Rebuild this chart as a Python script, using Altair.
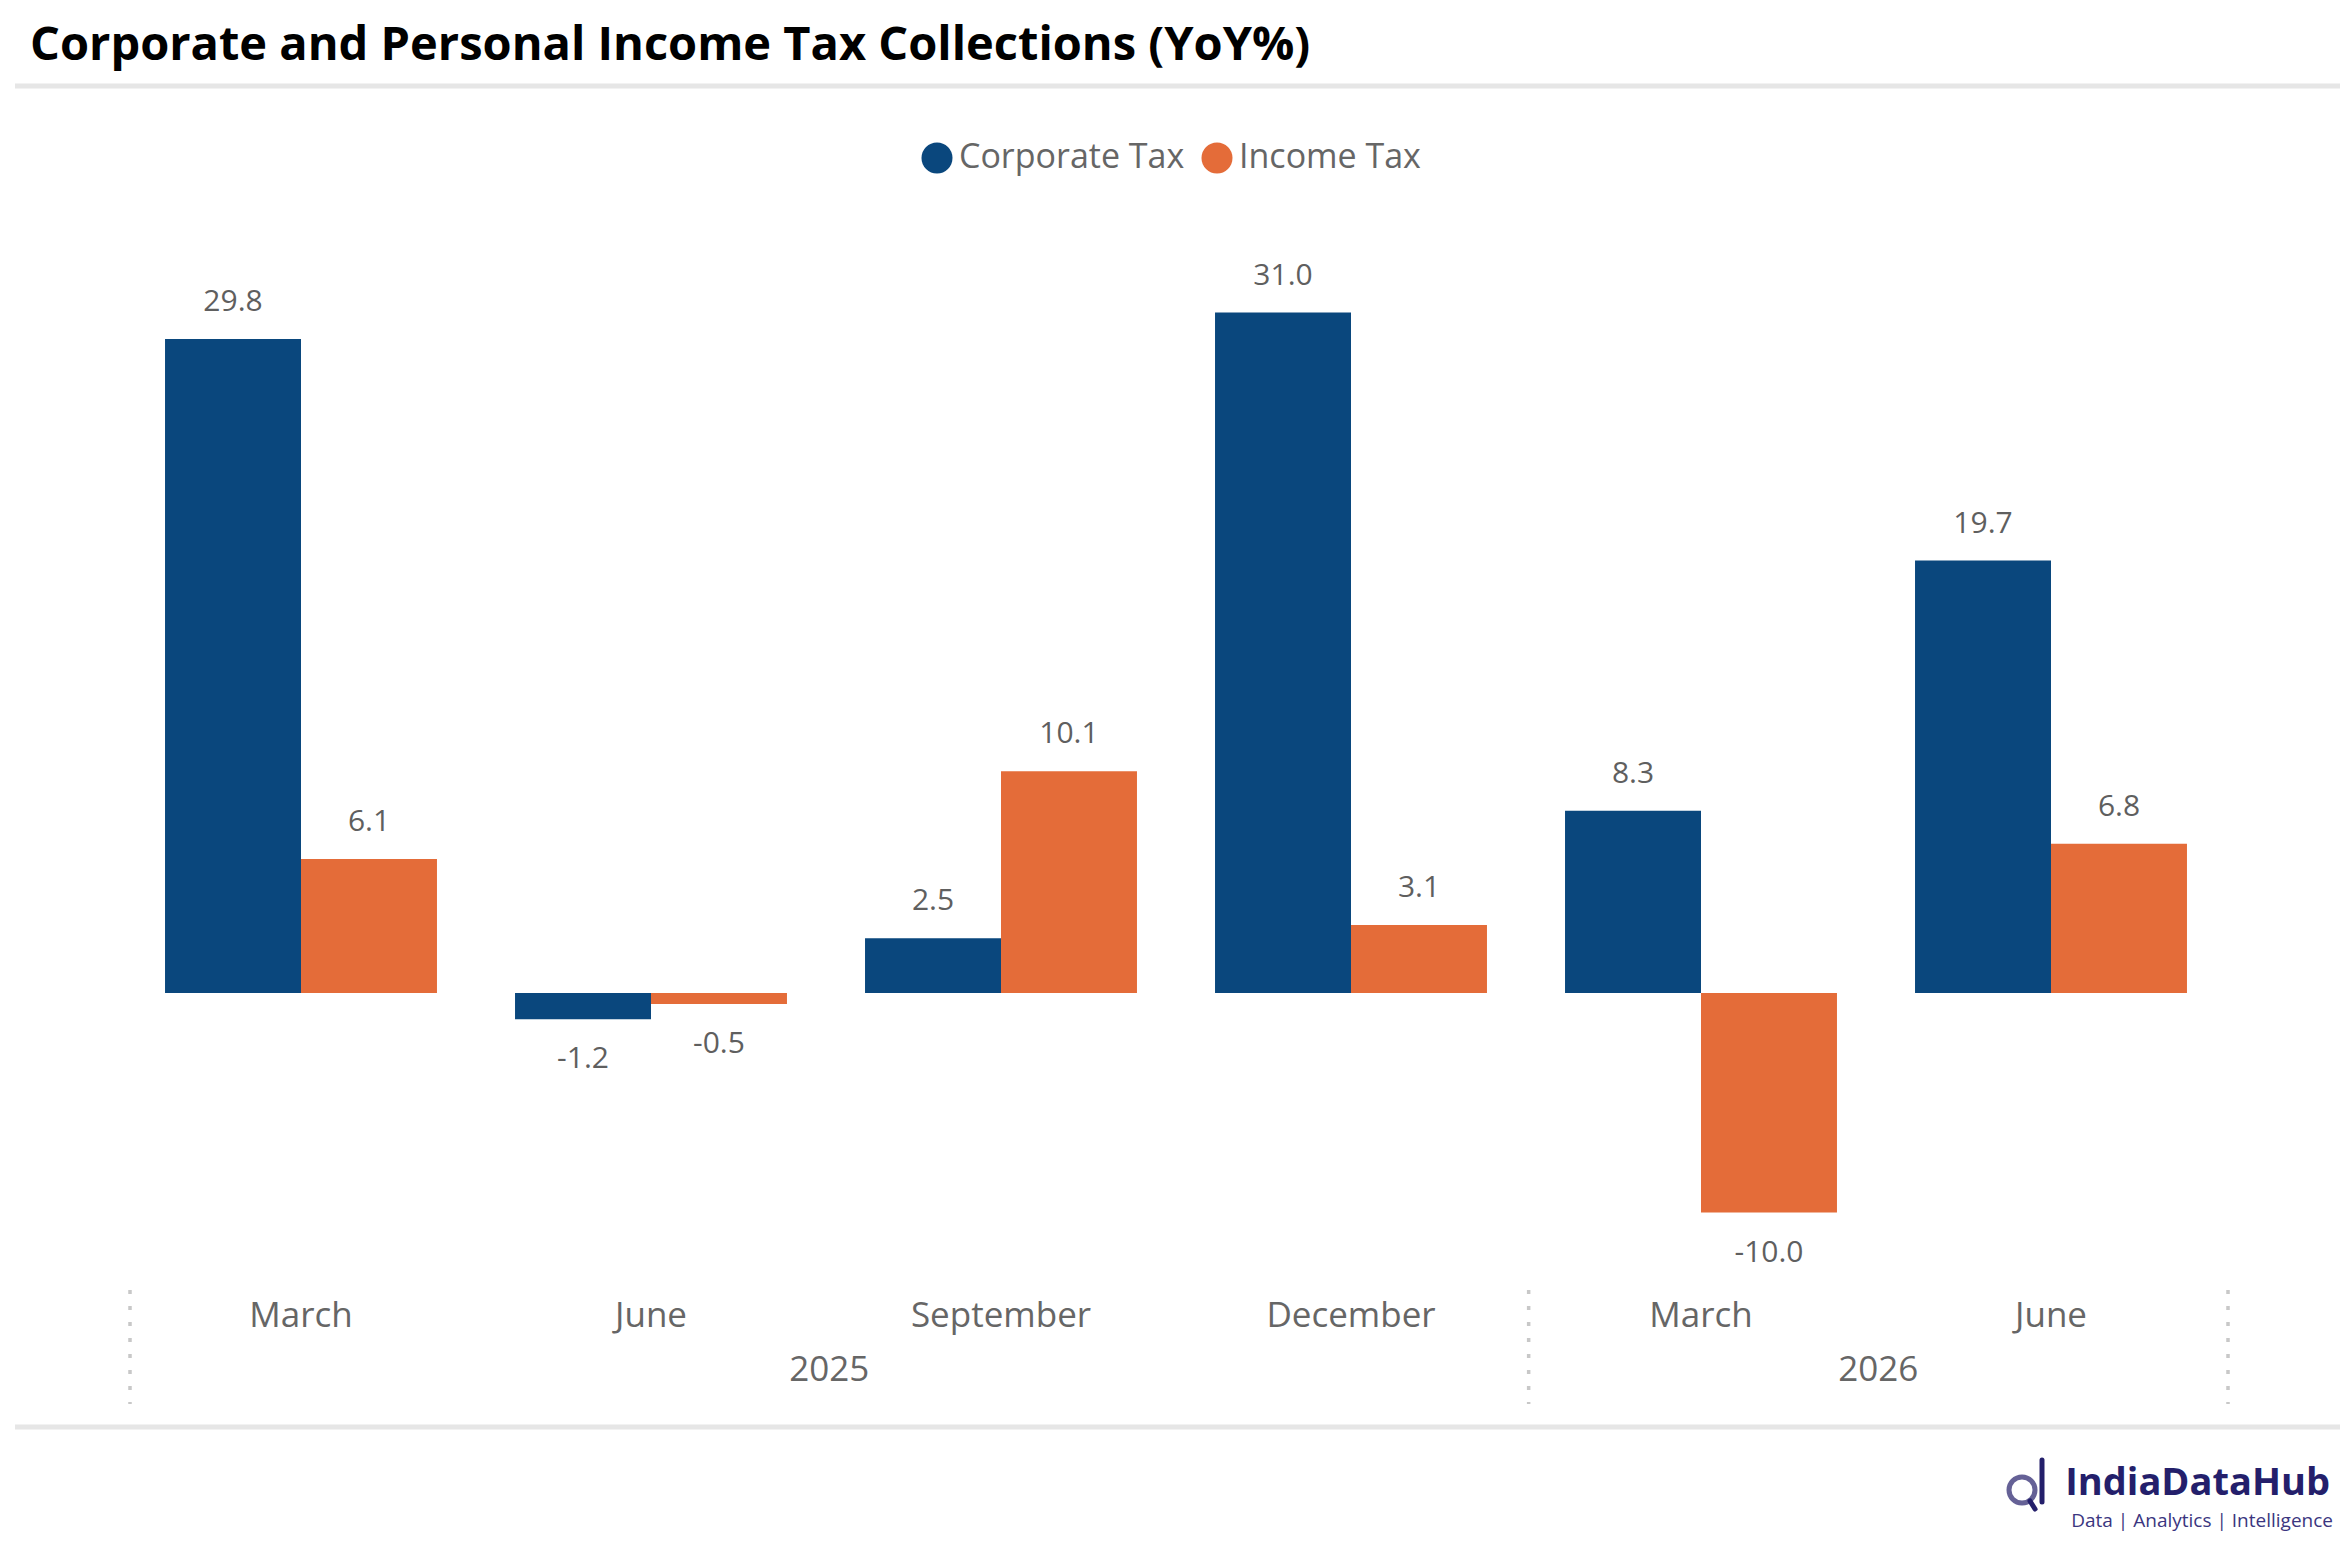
import altair as alt
import pandas as pd

TITLE = "Corporate and Personal Income Tax Collections (YoY%)"
months = ["March", "June", "September", "December", "March", "June"]
years = ["2025", "2025", "2025", "2025", "2026", "2026"]
corporate = [29.8, -1.2, 2.5, 31.0, 8.3, 19.7]
income = [6.1, -0.5, 10.1, 3.1, -10.0, 6.8]
series_names = ["Corporate Tax", "Income Tax"]
colors = ["#0a477d", "#e46c39"]
logo_name = "IndiaDataHub"
logo_tag = "Data | Analytics | Intelligence"

FONT = "Open Sans"
LABEL_GRAY = "#5f5f5f"
AXIS_GRAY = "#666666"
NAVY = "#241f6b"

periods = [f"{m} {y}" for m, y in zip(months, years)]
rows = []
for p, m, y, c, i in zip(periods, months, years, corporate, income):
    for s, v in ((series_names[0], c), (series_names[1], i)):
        rows.append(dict(period=p, month=m, year=y, series=s, value=v, label=f"{v:.1f}"))
df = pd.DataFrame(rows)
month_df = pd.DataFrame({"period": periods, "month": months})

# year groups (boundaries and centres in slot units)
year_order, year_counts = [], []
for y in years:
    if year_order and year_order[-1] == y:
        year_counts[-1] += 1
    else:
        year_order.append(y)
        year_counts.append(1)
bounds = [0]
for c in year_counts:
    bounds.append(bounds[-1] + c)
year_df = pd.DataFrame({"year": year_order,
                        "center": [(bounds[k] + bounds[k + 1]) / 2 for k in range(len(year_order))]})
sep_df = pd.DataFrame({"pos": bounds})

band_x = alt.Scale(domain=periods, range=[118, 2218], paddingInner=0.223, paddingOuter=0.1115)
slot_x = alt.Scale(domain=[0, len(periods)], range=[122, 2220], nice=False, zero=False)
y_scale = alt.Scale(domain=[-20, 40], range=[1424, 107], nice=False, zero=False)
off_scale = alt.Scale(domain=series_names, paddingInner=0, paddingOuter=0)

X = alt.X("period:N", scale=band_x, axis=None)
XO = alt.XOffset("series:N", scale=off_scale)
Y = alt.Y("value:Q", scale=y_scale, axis=None)

bars = alt.Chart(df).mark_bar().encode(
    x=X, xOffset=XO, y=Y, y2=alt.datum(0),
    color=alt.Color("series:N", scale=alt.Scale(domain=series_names, range=colors),
                    legend=alt.Legend(orient="none", legendX=912, legendY=133,
                                      direction="horizontal", title=None,
                                      symbolType="circle", symbolSize=961,
                                      symbolStrokeWidth=0, labelLimit=0,
                                      labelFont=FONT, labelFontSize=34,
                                      labelColor=AXIS_GRAY, labelOffset=5,
                                      columnPadding=15, padding=0)),
)

lab_pos = alt.Chart(df).transform_filter("datum.value >= 0").mark_text(
    dy=-37, baseline="middle", align="center", font=FONT, fontSize=30, color=LABEL_GRAY
).encode(x=X, xOffset=XO, y=Y, text="label:N")

lab_neg = alt.Chart(df).transform_filter("datum.value < 0").mark_text(
    dy=40, baseline="middle", align="center", font=FONT, fontSize=30, color=LABEL_GRAY
).encode(x=X, xOffset=XO, y=Y, text="label:N")

month_text = alt.Chart(month_df).mark_text(
    baseline="middle", align="center", font=FONT, fontSize=35, color=AXIS_GRAY
).encode(x=X, y=alt.value(1308), text="month:N")

main = alt.layer(bars, lab_pos, lab_neg, month_text)

seps = alt.Chart(sep_df).mark_rule(color="#c8c8c8", strokeWidth=3.5, strokeDash=[4, 12]).encode(
    x=alt.X("pos:Q", scale=slot_x, axis=None), y=alt.value(1282), y2=alt.value(1396))
year_text = alt.Chart(year_df).mark_text(
    baseline="middle", align="center", font=FONT, fontSize=35, color=AXIS_GRAY
).encode(x=alt.X("center:Q", scale=slot_x, axis=None), y=alt.value(1362), text="year:N")
grp = alt.layer(seps, year_text)

one = pd.DataFrame({"t": [TITLE]})
title = alt.Chart(one).mark_text(
    align="left", baseline="alphabetic", font=FONT, fontSize=47, fontWeight="bold", color="#000000"
).encode(x=alt.value(22), y=alt.value(52), text="t:N")

line_top = alt.Chart(one).mark_rule(color="#e6e6e6", strokeWidth=5).encode(
    x=alt.value(7), x2=alt.value(2332), y=alt.value(78))
line_bot = alt.Chart(one).mark_rule(color="#e6e6e6", strokeWidth=5).encode(
    x=alt.value(7), x2=alt.value(2332), y=alt.value(1419))

logo_df = pd.DataFrame({"name": [logo_name], "tag": [logo_tag]})
logo_name_t = alt.Chart(logo_df).mark_text(
    align="right", baseline="alphabetic", font=FONT, fontSize=38, fontWeight="bold", color=NAVY
).encode(x=alt.value(2322), y=alt.value(1487), text="name:N")
logo_tag_t = alt.Chart(logo_df).mark_text(
    align="right", baseline="middle", font=FONT, fontSize=19, color="#3b3680"
).encode(x=alt.value(2325), y=alt.value(1513), text="tag:N")
ring = alt.Chart(one).mark_point(shape="circle", size=676, filled=False, strokeWidth=5, color=NAVY).encode(
    x=alt.value(2014), y=alt.value(1482))
stem = alt.Chart(one).mark_rule(strokeWidth=5, color=NAVY, strokeCap="round").encode(
    x=alt.value(2034), y=alt.value(1452), y2=alt.value(1494))
tail = alt.Chart(one).mark_rule(strokeWidth=5, color=NAVY, strokeCap="round").encode(
    x=alt.value(2022), x2=alt.value(2027), y=alt.value(1493), y2=alt.value(1501))

chart = alt.layer(
    line_top, line_bot, main, grp, title, logo_name_t, logo_tag_t, ring, stem, tail
).resolve_scale(x="independent").properties(
    width=2332, height=1531, autosize=alt.AutoSizeParams(type="none"), padding=0,
    background="white"
).configure_view(stroke=None)

chart.save("out.html", embed_options={"renderer": "svg", "actions": False})
